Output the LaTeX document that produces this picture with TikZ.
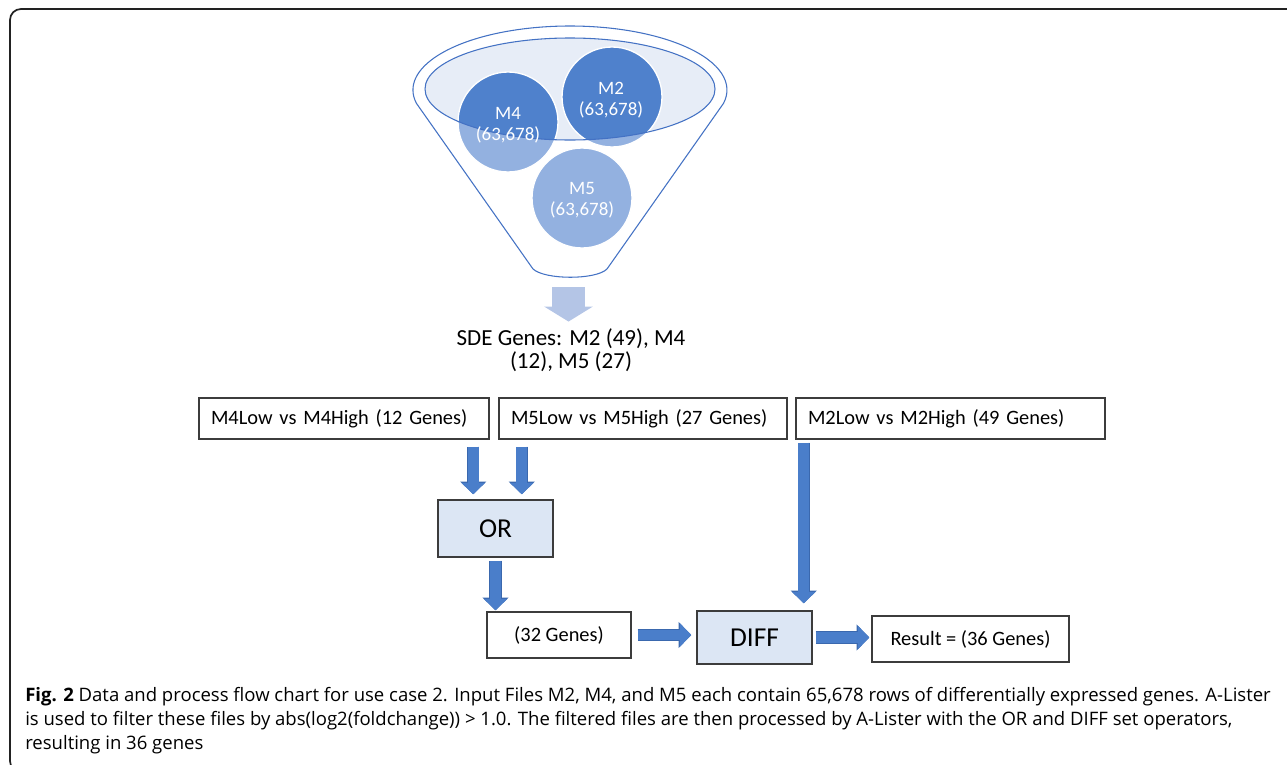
\documentclass[tikz,border=0pt]{standalone}
\usepackage{fontspec}
\setmainfont{Carlito}
\newfontfamily\capfont{Open Sans}
\usetikzlibrary{positioning, arrows.meta, calc}

\definecolor{funnelblue}{HTML}{4472C4}
\definecolor{rimfill}{HTML}{E7EDF7}
\definecolor{circlight}{HTML}{93B1E0}
\definecolor{circdark}{HTML}{4F81CC}
\definecolor{sdearrow}{HTML}{B4C5E6}
\definecolor{arrfill}{HTML}{4A7ECA}
\definecolor{arrline}{HTML}{3A68AE}
\definecolor{opfill}{HTML}{DCE6F4}
\definecolor{boxline}{HTML}{3C3C3C}
\definecolor{framegray}{HTML}{222222}

\tikzset{
    genebox/.style={draw=boxline, line width=1.1pt, minimum height=30.75pt, inner xsep=9pt,
        text width=#1, align=left, font=\fontsize{15.3}{18}\selectfont},
    opbox/.style={draw=boxline, fill=opfill, line width=1.1pt, font=\fontsize{20.5}{22}\selectfont},
    countbox/.style={draw=boxline, line width=1.1pt, font=\fontsize{15.3}{18}\selectfont},
    blockarr/.style={draw=arrfill, line width=8pt, -{Triangle[width=17pt,length=8.5pt]},
        preaction={draw=arrline, line width=9.2pt, -{Triangle[width=19pt,length=9.5pt]}}},
    sdearr/.style={draw=sdearrow, line width=24.75pt, -{Triangle[width=36pt,length=11.25pt]}},
    circtext/.style={text=white, align=center, font=\fontsize{14.2}{15.5}\selectfont}
}

\begin{document}
\begin{tikzpicture}[x=0.75pt, y=-0.75pt]
        \useasboundingbox (0,0) rectangle (1287,764);

        % frame
        \draw[framegray, line width=1.3pt, rounded corners=8.25pt] (1300,772) -- (10,772) -- (10,9) -- (1300,9);

        % funnel
        \draw[funnelblue, line width=0.8pt, fill=white] (416.4,103.3) arc[start angle=168, end angle=372, x radius=157, y radius=64]
            -- (607,269) .. controls (596,280) and (545,280) .. (533,269) -- cycle;
        \fill[rimfill] (570,89) ellipse[x radius=145, y radius=51];

        \foreach \cx/\cy in {508/122, 612/97, 582/198}
            \fill[circlight] (\cx,\cy) circle[radius=50];
        \begin{scope}
            \clip (570,89) ellipse[x radius=145, y radius=51];
            \foreach \cx/\cy in {508/122, 612/97}
                \fill[circdark] (\cx,\cy) circle[radius=50];
        \end{scope}
        \foreach \cx/\cy in {508/122, 612/97, 582/198}
            \draw[white, line width=1pt] (\cx,\cy) circle[radius=50];
        \draw[funnelblue, line width=0.8pt] (570,89) ellipse[x radius=145, y radius=51];

        \node[circtext] (m4) at (508,125) {M4\\(63,678)};
        \node[circtext] (m2) at (611,100) {M2\\(63,678)};
        \node[circtext] (m5) at (582,200) {M5\\(63,678)};

        % sde genes
        \coordinate (funnelout) at (568.5,287);
        \node[align=center, inner sep=0, font=\fontsize{17.25}{17.25}\selectfont] (sde) at (571,350)
            {SDE Genes: M2 (49), M4\\(12), M5 (27)};
        \draw[sdearr, shorten >=5pt] (funnelout) -- (funnelout |- sde.north);

        % inputs
        \node[genebox=199.5pt] (m4low) at (344,418.5) {M4Low vs M4High (12 Genes)};
        \node[genebox=198pt] (m5low) at (643,418.5) {M5Low vs M5High (27 Genes)};
        \node[genebox=213.75pt] (m2low) at (950.5,418.5) {M2Low vs M2High (49 Genes)};

        % operators
        \node[opbox, minimum width=86.25pt, minimum height=42.75pt] (orgate) at (495.5,528.5) {OR};
        \node[countbox, minimum width=108pt, minimum height=34.5pt] (g32) at (559,635) {(32 Genes)};
        \node[opbox, minimum width=86.25pt, minimum height=39.75pt] (diff) at (754.5,637.5) {DIFF};
        \node[countbox, minimum width=147.75pt, minimum height=34.5pt] (result) at (970.5,639) {Result = (36 Genes)};

        % arrows
        \coordinate (m4out) at ($(m4low.south east)+(-16.5,0)$);
        \coordinate (m5out) at ($(m5low.south west)+(23.5,0)$);
        \coordinate (m2in) at ($(diff.north east)+(-9,0)$);
        \draw[blockarr, shorten <=5.25pt, shorten >=3.75pt] (m4out) -- (m4out |- orgate.north);
        \draw[blockarr, shorten <=5.25pt, shorten >=3.75pt] (m5out) -- (m5out |- orgate.north);
        \draw[blockarr, shorten <=2.25pt, shorten >=0.75pt] (orgate.south) -- (orgate.south |- g32.north);
        \draw[blockarr, shorten <=4.5pt, shorten >=3.75pt] (g32.east) -- (g32.east -| diff.west);
        \draw[blockarr, shorten <=2.25pt, shorten >=5.25pt] (m2in |- m2low.south) -- (m2in);
        \draw[blockarr, shorten <=2.25pt, shorten >=1.5pt] (diff.east) -- (diff.east -| result.west);

        % caption
        \node[anchor=base west, align=left, inner sep=0, font=\capfont\fontsize{13.9}{18}\selectfont] (caption) at (25,749)
            {\textbf{Fig. 2} Data and process flow chart for use case 2. Input Files M2, M4, and M5 each contain 65,678 rows of differentially expressed genes. A-Lister\\
            is used to filter these files by abs(log2(foldchange)) > 1.0. The filtered files are then processed by A-Lister with the OR and DIFF set operators,\\
            resulting in 36 genes};
\end{tikzpicture}
\end{document}
